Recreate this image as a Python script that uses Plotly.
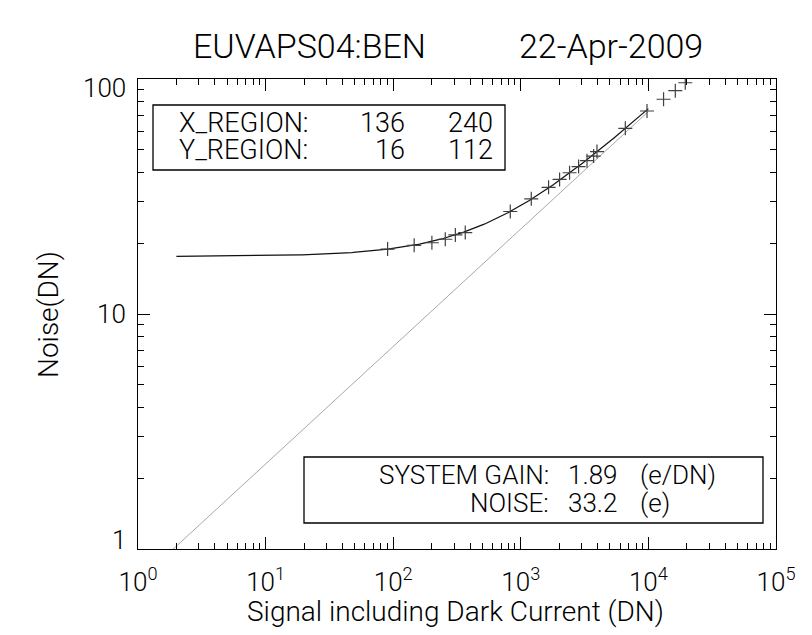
import numpy as np
import plotly.graph_objects as go

# Photon-transfer measurements: mean signal (DN) and noise (DN)
signal_dn = [90.4, 146, 201, 256, 307, 367, 827, 1208, 1651, 2014, 2411,
             2838, 3303, 3722, 3954, 6592, 9750, 13150, 16250, 19450]
noise_dn = [18.9, 19.6, 20.1, 20.8, 21.7, 22.2, 27.3, 30.9, 34.6, 37.4, 39.9,
            42.4, 44.9, 47.0, 49.1, 61.7, 73.1, 82.0, 89.2, 96.4]

# Fit results
system_gain = 1.89      # e/DN
read_noise_e = 33.2     # e
x_region = [136, 240]
y_region = [16, 112]

title_left = "EUVAPS04:BEN"
title_right = "22-Apr-2009"
x_title = "Signal including Dark Current (DN)"
y_title = "Noise(DN)"
x_tick_vals = [1, 10, 100, 1000, 10000, 100000]
x_tick_text = ["10<sup>%d</sup>" % k for k in range(6)]
y_tick_vals = [1, 10, 100]
y_tick_text = ["1", "10", "100"]

# Model curves: read noise + shot noise, and shot noise alone
read_noise_dn = read_noise_e / system_gain
fit_x = np.geomspace(2, 1e4, 300)
fit_y = np.sqrt(read_noise_dn ** 2 + fit_x / system_gain)
shot_x = np.geomspace(1.5, 1e4, 300)
shot_y = np.sqrt(shot_x / system_gain)

W, H = 812, 635
L, R, T, B = 138, 36, 79, 86
FONT = "Roboto"
INK = "#000000"

fig = go.Figure()
fig.add_trace(go.Scatter(x=shot_x, y=shot_y, mode="lines",
                         line=dict(color="#a8a8a8", width=1), hoverinfo="skip"))
fig.add_trace(go.Scatter(x=fit_x, y=fit_y, mode="lines",
                         line=dict(color="#111111", width=1.2), hoverinfo="skip"))
fig.add_trace(go.Scatter(x=signal_dn, y=noise_dn, mode="markers",
                         marker=dict(symbol="cross-thin", size=10,
                                     line=dict(color="#404040", width=1.2))))

minor_x = [m * 10 ** k for k in range(5) for m in range(2, 10)]
minor_y = [m * 10 ** k for k in range(0, 2) for m in range(2, 10)]

axis_common = dict(type="log", showgrid=False, zeroline=False, showline=True,
                   linecolor=INK, linewidth=1.3, mirror="ticks", ticks="inside",
                   ticklen=12, tickwidth=1.2, tickcolor=INK,
                   tickfont=dict(family=FONT, size=26, color=INK, weight=300))

fig.update_xaxes(range=[0, 5], tickmode="array", tickvals=x_tick_vals,
                 ticktext=x_tick_text, ticklabelstandoff=10,
                 minor=dict(tickmode="array", tickvals=minor_x, ticks="inside",
                            ticklen=6, tickwidth=1.1, tickcolor=INK),
                 **axis_common)
fig.update_yaxes(range=[0, 2], tickmode="array", tickvals=y_tick_vals,
                 ticktext=y_tick_text, showticklabels=False,
                 minor=dict(tickmode="array", tickvals=minor_y, ticks="inside",
                            ticklen=6, tickwidth=1.1, tickcolor=INK),
                 **axis_common)


def px_x(px):
    return (px - L) / (W - L - R)


def px_y(py):
    return (H - B - py) / (H - T - B)


def label(text, x, y, size=26, xanchor="center", yanchor="middle", angle=0):
    fig.add_annotation(text=text, xref="paper", yref="paper", x=px_x(x), y=px_y(y),
                       xanchor=xanchor, yanchor=yanchor, showarrow=False, textangle=angle,
                       font=dict(family=FONT, size=size, color=INK, weight=300))


def box(x0, y0, x1, y1):
    fig.add_shape(type="rect", xref="paper", yref="paper",
                  x0=px_x(x0), x1=px_x(x1), y0=px_y(y1), y1=px_y(y0),
                  line=dict(color=INK, width=1.3), fillcolor="rgba(0,0,0,0)")


# Y tick labels; the end labels sit just inside the axis ends
for val, txt, shift in zip(y_tick_vals, y_tick_text, [9, 0, -9]):
    fig.add_annotation(text=txt, xref="paper", yref="y", x=px_x(128), y=np.log10(val),
                       xanchor="right", yanchor="middle", yshift=shift, showarrow=False,
                       font=dict(family=FONT, size=26, color=INK, weight=300))

# Title
label(title_left, 309, 46, size=34)
label(title_right, 611, 46, size=34)

# Axis titles
label(x_title, 455, 611, size=28)
label(y_title, 48, 315, size=28, angle=-90)

# Region box
box(153, 105, 505, 170)
label("X_REGION:", 177, 123, size=27, xanchor="left")
label("Y_REGION:", 177, 150, size=27, xanchor="left")
label(str(x_region[0]), 407, 123, size=27, xanchor="right")
label(str(x_region[1]), 495, 123, size=27, xanchor="right")
label(str(y_region[0]), 407, 150, size=27, xanchor="right")
label(str(y_region[1]), 495, 150, size=27, xanchor="right")

# Fit results box
box(304, 457, 763, 523)
label("SYSTEM GAIN:", 551, 475, xanchor="right")
label("%.2f" % system_gain, 566, 475, xanchor="left")
label("(e/DN)", 638, 475, xanchor="left")
label("NOISE:", 551, 503, xanchor="right")
label("%.1f" % read_noise_e, 566, 503, xanchor="left")
label("(e)", 638, 503, xanchor="left")

fig.update_layout(width=W, height=H, margin=dict(l=L, r=R, t=T, b=B),
                  paper_bgcolor="white", plot_bgcolor="white", showlegend=False)

fig.write_html("out.html")
